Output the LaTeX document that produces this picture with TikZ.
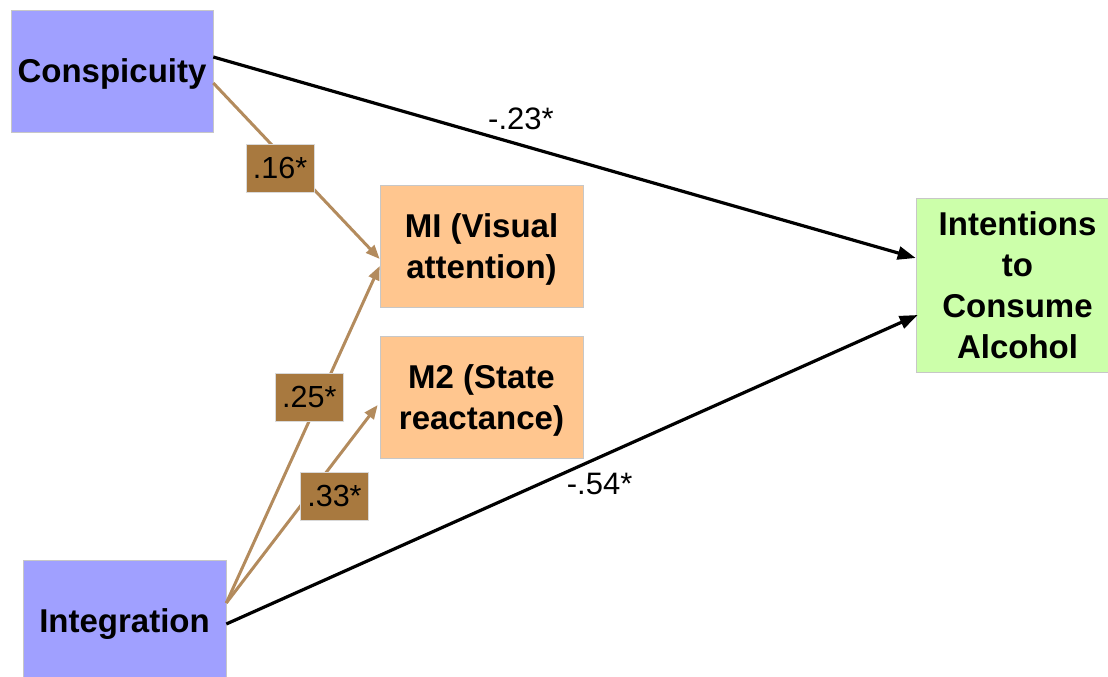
\documentclass[tikz,border=0pt]{standalone}
\usepackage{fontspec}
\setmainfont{Liberation Sans}
\usetikzlibrary{arrows.meta,calc}
\definecolor{predblue}{HTML}{A0A0FF}
\definecolor{medorange}{HTML}{FFC68F}
\definecolor{outgreen}{HTML}{CCFFAA}
\definecolor{pathbrown}{HTML}{B38B5D}
\definecolor{coefbrown}{HTML}{A8793F}
\begin{document}
\begin{tikzpicture}[x=1pt,y=-1pt,
  box/.style={draw=black!22, line width=0.6pt, inner sep=0pt, align=center,
    font=\fontsize{33}{41}\selectfont\bfseries},
  coef/.style={fill=coefbrown, draw=black!15, line width=0.4pt, inner sep=0pt,
    minimum width=68pt, minimum height=48pt, font=\fontsize{30.5}{36}\selectfont},
  pathlbl/.style={inner sep=0pt, font=\fontsize{31}{36}\selectfont},
  mediated/.style={draw=pathbrown, line width=3pt,
    -{Triangle[length=14pt,width=11pt]}},
  direct/.style={draw=black, line width=3.2pt,
    -{Triangle[length=18pt,width=13pt]}}]
\useasboundingbox (0,0) rectangle (1108,677);

% variables (text depth adjusts where the text sits in each box)
\node[box, fill=predblue, minimum width=202pt, minimum height=122pt, text depth=-1pt] (consp) at (112,71) {Conspicuity};
\node[box, fill=medorange, minimum width=203pt, minimum height=122pt, text depth=-3pt] (mone) at (481.5,246) {MI (Visual\\attention)};
\node[box, fill=medorange, minimum width=203pt, minimum height=122pt, text depth=-7pt] (mtwo) at (481.5,397) {M2 (State\\reactance)};
\node[box, fill=predblue, minimum width=203pt, minimum height=122pt, text depth=-5pt] (integ) at (124.5,621) {Integration};
\node[box, fill=outgreen, minimum width=203pt, minimum height=174pt, text depth=-5.5pt] (intent) at (1017.5,285) {Intentions\\to\\Consume\\Alcohol};

% connector end points on the box sides
\coordinate (cdir) at ($(consp.east)+(0,-14)$);
\coordinate (cmed) at ($(consp.east)+(0,12)$);
\coordinate (imed) at ($(integ.east)+(0,-18)$);
\coordinate (idir) at ($(integ.east)+(0,3)$);
\coordinate (monea) at ($(mone.west)+(0,13)$);
\coordinate (moneb) at ($(mone.west)+(0,20)$);
\coordinate (mtwoa) at ($(mtwo.west)+(-2,8)$);
\coordinate (intenta) at ($(intent.west)+(0,-27)$);
\coordinate (intentb) at ($(intent.west)+(2,30)$);

% direct effects
\draw[direct] (cdir) -- (intenta)
  node[pathlbl, pos=0.438, yshift=26pt] (lconsp) {-.23*};
\draw[direct] (idir) -- (intentb)
  node[pathlbl, pos=0.54, yshift=-27pt] (linteg) {-.54*};

% paths through the mediators
\draw[mediated] (cmed) -- (monea)
  node[coef, pos=0.483, xshift=-13.6pt] (lcm) {.16*};
\draw[mediated] (imed) -- (moneb)
  node[coef, pos=0.61, xshift=-10.5pt] (lim) {.25*};
\draw[mediated] (imed) -- (mtwoa)
  node[coef, pos=0.538, xshift=26.7pt] (lis) {.33*};
\end{tikzpicture}
\end{document}
